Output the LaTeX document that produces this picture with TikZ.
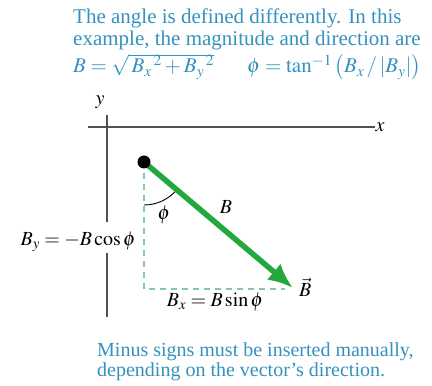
\documentclass[tikz,border=0pt]{standalone}
\usepackage{mathptmx}
\usepackage[no-math]{fontspec}
\setmainfont{Liberation Serif}
\usepackage{tikz}
\usetikzlibrary{arrows.meta,calc}

\definecolor{capblue}{RGB}{52,146,190}
\definecolor{vecgreen}{RGB}{34,168,60}
\definecolor{dashgreen}{RGB}{130,200,170}
\definecolor{axisgray}{RGB}{80,80,80}

\begin{document}
\begin{tikzpicture}[x=1pt,y=1pt,
  caption/.style={text=capblue,anchor=base west,inner sep=0pt,font=\fontsize{21}{24}\selectfont},
  lbl/.style={inner sep=0pt,font=\fontsize{20}{24}\selectfont}]
  \useasboundingbox (0,0) rectangle (432,386);
  % text on top
  \node[caption] (l1) at (73,362) {The angle is defined differently. In this};
  \node[caption] (l2) at (73,340) {example, the magnitude and direction are};
  \node[caption] (eqB) at (73,313) {$B=\sqrt{\vphantom{B}\smash{\,B_x{}^{\,2}+B_y{}^{\,2}}}$};
  \node[caption] (eqphi) at (247,313) {$\phi=\tan^{-1}\,\bigl(B_x\,/\,|B_y|\bigr)$};
  % axes
  \draw[axisgray,line width=1.2pt] (88,259) -- (375,259) node[right,text=black,lbl]{$x$};
  \draw[axisgray,line width=1.2pt] (107,271) -- (107,164) (107,133) -- (107,69);
  \node[lbl] (ylab) at (100,284) {$y$};
  % vector and components
  \coordinate (tail) at (144,224);
  \coordinate (head) at (293,98);
  \coordinate (corner) at (144,97);
  \coordinate (xend) at (285,97);
  \draw[dashgreen,line width=1.4pt,dash pattern=on 6pt off 5pt] (tail) -- (corner) -- (xend);
  \draw[line width=0.9pt] ($(tail)+(0,-43)$) arc (-90:-40.2:43);
  \draw[vecgreen,line width=5.5pt,-{Latex[length=25pt,width=21pt]}] (tail) -- (head);
  \fill (tail) circle (6.5);
  \node[lbl] (phi) at (164,171) {$\phi$};
  \node[lbl] (Blab) at (226,179) {$B$};
  \node[lbl,anchor=west] (Bvec) at (299,99) {$\vec B$};
  \node[lbl,anchor=east] (By) at (136,144) {$B_y=-B\cos\phi$};
  \node[lbl] (Bx) at (215,84) {$B_x=B\sin\phi$};
  % text below
  \node[caption,font=\fontsize{20}{24}\selectfont] (m1) at (97,29) {Minus signs must be inserted manually,};
  \node[caption,font=\fontsize{20}{24}\selectfont] (m2) at (97,9) {depending on the vector’s direction.};
\end{tikzpicture}
\end{document}
